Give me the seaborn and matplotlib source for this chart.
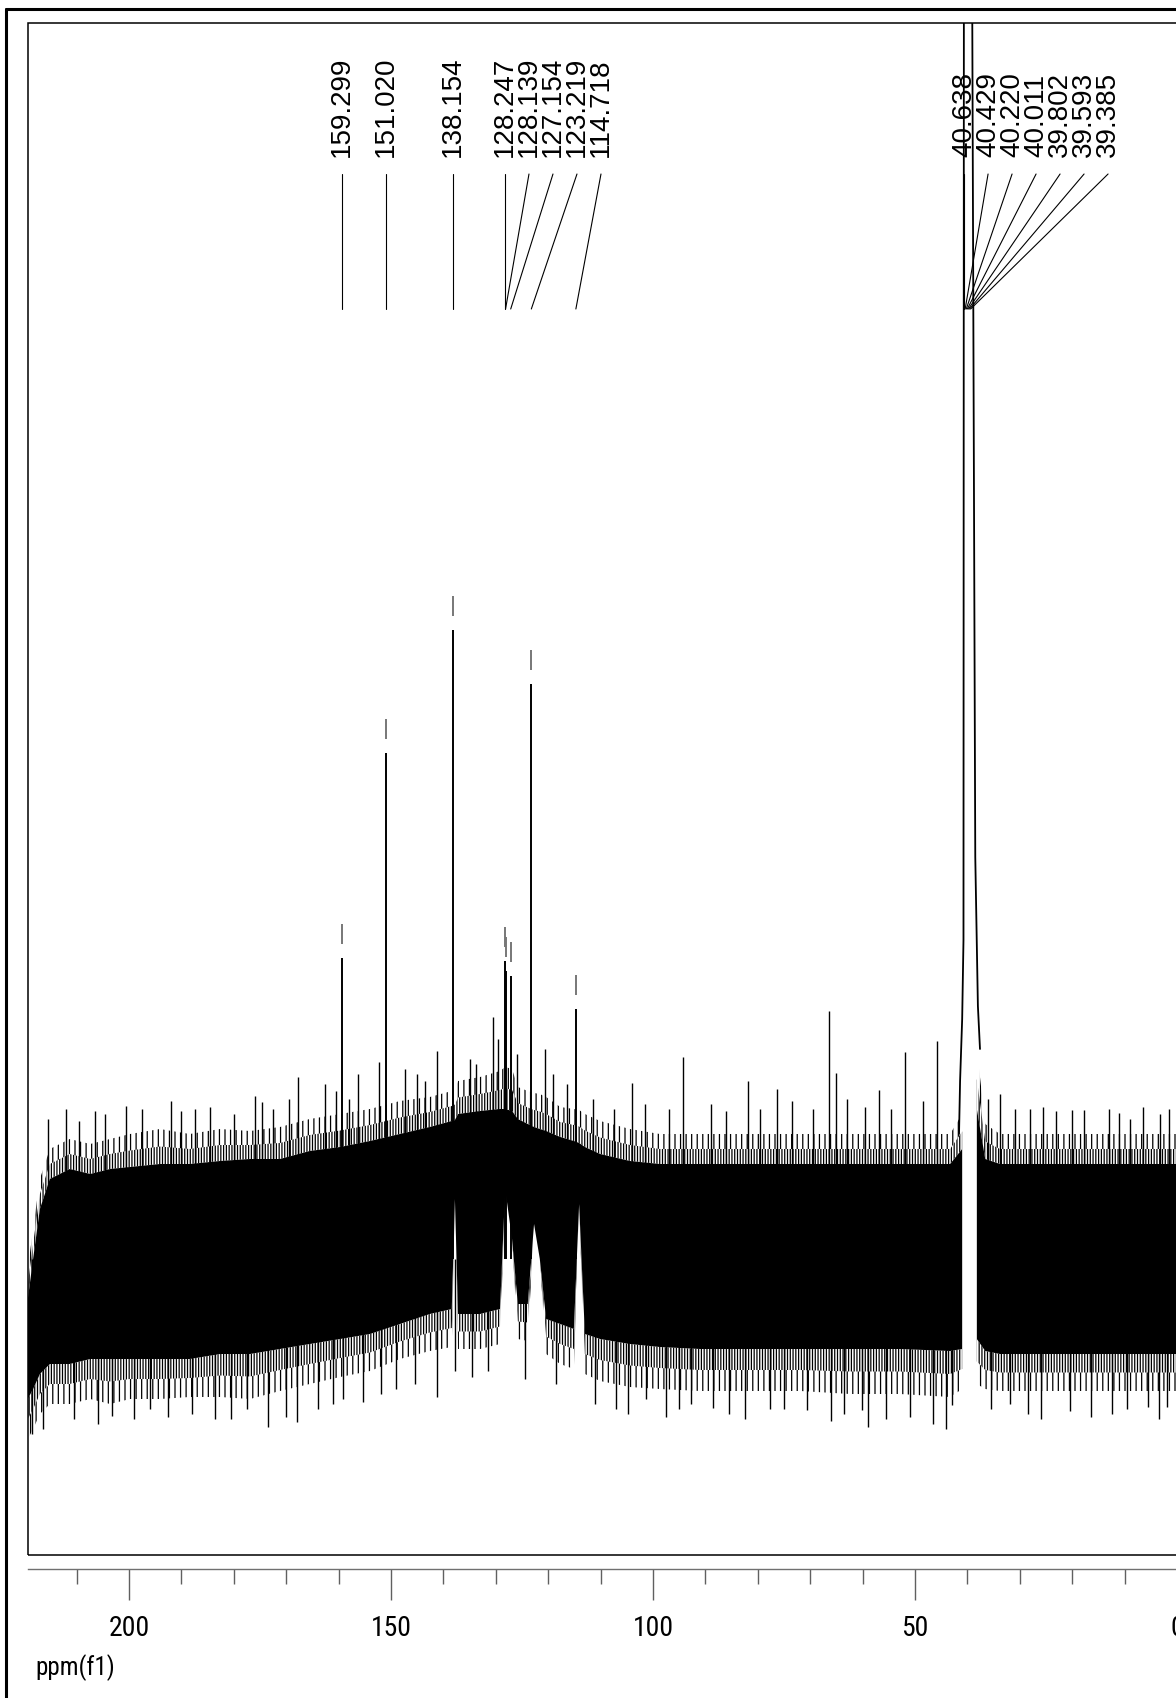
import numpy as np
import pandas as pd
import matplotlib
matplotlib.use("Agg")
import matplotlib.pyplot as plt
import seaborn as sns
import matplotlib.transforms as mtransforms
from matplotlib.patches import Rectangle
from matplotlib.lines import Line2D
from matplotlib.ticker import MultipleLocator
from matplotlib import font_manager

# ---------------- data ----------------
peak_ppm = [159.299, 151.020, 138.154, 128.247, 128.139, 127.154, 123.219, 114.718]
peak_int = [301, 506, 629, 298, 288, 283, 575, 250]

dmso_ppm = [40.638, 40.429, 40.220, 40.011, 39.802, 39.593, 39.385]
dmso_int = [1700, 3300, 5000, 5600, 5000, 3300, 1700]
dmso_left_ppm = [41.6, 41.4, 41.0, 40.75]
dmso_left_int = [125, 178, 240, 319]
dmso_right_ppm = [38.5, 38.0, 37.6]
dmso_right_int = [402, 253, 210]

label_texts = ["159.299", "151.020", "138.154", "128.247", "128.139", "127.154",
               "123.219", "114.718", "40.638", "40.429", "40.220", "40.011",
               "39.802", "39.593", "39.385"]

# noise band envelope: ppm, upper tips, solid top, solid bottom, lower tips
env_ppm = [219.3, 218.3, 217.0, 215.1, 211.3, 207.4, 203.6, 199.8, 194.1, 188.4,
           182.6, 176.9, 171.2, 165.5, 159.7, 154.0, 148.3, 142.6, 138.4, 137.8,
           137.2, 133.0, 129.2, 128.2, 126.9, 125.8, 123.9, 122.7, 121.6, 120.4,
           117.7, 115.1, 114.1, 113.0, 110.1, 104.4, 98.7, 91.0, 81.5, 71.9,
           62.4, 52.9, 43.3, 41.0, 39.6, 38.2, 36.6, 33.8, 24.2, 14.7,
           5.2, 0.2, -10.1]
env_hi = [-10, 30, 80, 110, 120, 115, 120, 125, 130, 125,
          130, 128, 132, 140, 145, 150, 158, 162, 168, 170,
          178, 182, 188, 192, 190, 172, 168, 166, 165, 162,
          152, 150, 149, 145, 138, 130, 125, 125, 125, 125,
          125, 125, 125, 145, np.nan, 210, 135, 125, 125, 125,
          125, 125, 125]
env_solid_hi = [-40, 0, 50, 80, 90, 85, 90, 92, 95, 95,
                98, 100, 100, 108, 112, 118, 125, 132, 138, 139,
                145, 148, 150, 150, 148, 140, 135, 132, 130, 128,
                122, 118, 116, 112, 105, 98, 95, 95, 95, 95,
                95, 95, 95, 110, np.nan, 150, 100, 95, 95, 95,
                95, 95, 95]
env_solid_lo = [-140, -130, -115, -105, -105, -100, -100, -100, -100, -100,
                -95, -95, -90, -85, -80, -75, -65, -55, -50, 60,
                -55, -55, -50, 70, 20, -45, -45, 35, 0, -60,
                -65, -70, 55, -75, -80, -85, -88, -90, -90, -90,
                -90, -90, -92, -90, np.nan, -80, -92, -95, -95, -95,
                -95, -95, -95]
env_lo = [-180, -170, -155, -145, -145, -140, -145, -140, -140, -138,
          -138, -140, -132, -125, -118, -112, -100, -92, -88, 60,
          -90, -90, -85, 70, 20, -80, -82, 35, 0, -95,
          -105, -110, 55, -115, -122, -128, -130, -132, -132, -132,
          -135, -135, -138, -130, np.nan, -125, -130, -132, -132, -132,
          -132, -132, -132]

# visible noise spikes
spike_up_ppm = [215.5, 212.0, 209.5, 206.5, 204.5, 200.6, 197.5, 192.0, 190.0, 187.4,
                184.5, 180.0, 176.0, 174.6, 172.5, 169.5, 167.7, 162.6, 160.5, 158.0,
                156.3, 152.3, 147.3, 145.0, 143.5, 141.2, 135.0, 133.8, 130.5, 129.6,
                126.0, 120.6, 119.0, 116.5, 111.5, 107.5, 104.0, 101.5, 97.0, 94.3,
                89.0, 86.0, 81.9, 79.5, 76.3, 73.5, 69.5, 66.4, 65.1, 63.0,
                59.5, 56.9, 54.5, 51.9, 48.5, 45.8, 36.0, 33.8, 31.0, 28.1,
                25.5, 23.0, 20.0, 17.7, 13.0, 11.0, 9.0, 6.5, 3.2, 1.5]
spike_up_int = [140, 150, 138, 148, 145, 153, 150, 158, 148, 150,
                152, 145, 163, 157, 150, 160, 182, 175, 168, 160,
                185, 197, 190, 185, 178, 208, 200, 195, 242, 220,
                205, 210, 185, 175, 160, 150, 176, 155, 150, 202,
                155, 148, 178, 150, 170, 158, 150, 248, 186, 160,
                152, 169, 150, 207, 158, 218, 160, 165, 150, 150,
                152, 148, 149, 149, 150, 146, 140, 152, 145, 150]
spike_dn_ppm = [218.5, 216.5, 210.5, 206.0, 203.2, 199.0, 196.0, 192.5, 188.0, 183.6,
                180.5, 177.5, 173.5, 170.0, 167.9, 164.0, 161.0, 159.2, 155.3, 152.0,
                149.0, 145.5, 141.2, 137.8, 134.5, 131.5, 124.4, 118.5, 111.0, 107.0,
                104.8, 101.3, 97.5, 95.0, 92.7, 88.5, 85.5, 82.5, 77.7, 75.0,
                70.6, 66.0, 63.5, 60.1, 59.0, 55.5, 51.0, 46.5, 44.0, 42.9,
                35.5, 31.9, 28.5, 26.0, 20.5, 16.5, 12.5, 9.5, 5.5, 3.5, 1.9]
spike_dn_int = [-175, -170, -160, -165, -157, -160, -150, -158, -155, -160,
                -160, -150, -168, -158, -163, -150, -145, -140, -143, -135,
                -130, -125, -138, -112, -118, -112, -120, -125, -145, -150,
                -155, -140, -158, -150, -145, -149, -155, -160, -150, -150,
                -151, -162, -155, -151, -168, -160, -158, -165, -170, -146,
                -150, -145, -155, -160, -152, -158, -155, -150, -148, -160, -148]

major_ticks = [200, 150, 100, 50, 0]

# ---------------- layout ----------------
W, H = 1176, 1699
DPI = 100
PX_PER_PPM = 5.24
XLIM = (219.27, -10.11)
YLIM = (-296, 1236)

sns.set_theme(style="white")


def pick_font(cands):
    names = {f.name for f in font_manager.fontManager.ttflist}
    for c in cands:
        if c in names:
            return c
    return "DejaVu Sans"


narrow = pick_font(["Liberation Sans Narrow", "Arial Narrow", "Roboto Condensed", "Liberation Sans"])
label_font = pick_font(["Liberation Sans", "Arial", "DejaVu Sans"])
plt.rcParams["font.family"] = [label_font, "DejaVu Sans"]
plt.rcParams["hatch.linewidth"] = 0.9
plt.rcParams["hatch.color"] = "black"

fig = plt.figure(figsize=(W / DPI, H / DPI), dpi=DPI)
fig.patch.set_facecolor("white")
ax_left = 28 / W
ax_right = 1230 / W
ax_bot = (H - 1556) / H
ax_top = (H - 24) / H
ax = fig.add_axes([ax_left, ax_bot, ax_right - ax_left, ax_top - ax_bot])
ax.set_facecolor("white")

# noise band: solid body with graded hairy fringes
band = pd.DataFrame({"ppm": env_ppm, "hi": env_hi, "shi": env_solid_hi,
                     "slo": env_solid_lo, "lo": env_lo})
mid_hi = (band["hi"] + band["shi"]) / 2
mid_lo = (band["lo"] + band["slo"]) / 2
ax.fill_between(band["ppm"], band["slo"], band["shi"], color="black", lw=0)
ax.fill_between(band["ppm"], band["shi"], mid_hi, facecolor="none", edgecolor="black",
                hatch="||||||", lw=0)
ax.fill_between(band["ppm"], mid_hi, band["hi"], facecolor="none", edgecolor="black",
                hatch="|||", lw=0)
ax.fill_between(band["ppm"], mid_lo, band["slo"], facecolor="none", edgecolor="black",
                hatch="||||||", lw=0)
ax.fill_between(band["ppm"], band["lo"], mid_lo, facecolor="none", edgecolor="black",
                hatch="|||", lw=0)

# spikes
ax.vlines(spike_up_ppm, 0, spike_up_int, color="black", lw=1.0)
ax.vlines(spike_dn_ppm, 0, spike_dn_int, color="black", lw=1.0)

# DMSO multiplet trace
dm = pd.DataFrame({"ppm": dmso_left_ppm + dmso_ppm + dmso_right_ppm,
                   "int": dmso_left_int + dmso_int + dmso_right_int})
sns.lineplot(data=dm, x="ppm", y="int", ax=ax, color="black", lw=1.3,
             estimator=None, sort=False)

# peaks and peak-pick markers
ax.vlines(peak_ppm, 0, peak_int, color="black", lw=1.4)
pk = np.array(peak_int, dtype=float)
ax.vlines(peak_ppm, pk + 14, pk + 34, color="#777777", lw=1.4)

ax.set_xlim(*XLIM)
ax.set_ylim(*YLIM)
ax.set_xlabel("")
ax.set_ylabel("")
ax.set_yticks([])

# frame
ax.add_patch(Rectangle((0, 0), 1, 1, transform=ax.transAxes, fill=False,
                       ec="black", lw=1.1, clip_on=False, zorder=5))
for s in ["top", "left", "right"]:
    ax.spines[s].set_visible(False)
ax.spines["bottom"].set_position(("outward", 14 * 72 / DPI))
ax.spines["bottom"].set_color("#707070")
ax.spines["bottom"].set_linewidth(1.0)

ax.xaxis.set_major_locator(MultipleLocator(50))
ax.xaxis.set_minor_locator(MultipleLocator(10))
ax.tick_params(axis="x", which="major", direction="out", length=31 * 72 / DPI,
               width=1.0, color="#606060", pad=14 * 72 / DPI, labelsize=20,
               labelcolor="black", bottom=True)
ax.tick_params(axis="x", which="minor", direction="out", length=15 * 72 / DPI,
               width=1.0, color="#606060", bottom=True)
ax.set_xticks(major_ticks)
ax.set_xticklabels([str(t) for t in major_ticks], family=[narrow, "DejaVu Sans"])

# peak labels with connectors
all_ppm = peak_ppm + dmso_ppm
spacing = 24 / PX_PER_PPM
trans = mtransforms.blended_transform_factory(ax.transData, ax.transAxes)
y_text = (1556 - 157) / 1532
y_l1 = (1556 - 175) / 1532
y_l2 = (1556 - 310) / 1532
prev = None
for p, t in zip(all_ppm, label_texts):
    lp = p if prev is None else min(p, prev - spacing)
    prev = lp
    ax.text(lp, y_text, t, transform=trans, rotation=90, ha="center", va="bottom",
            fontsize=20, color="black")
    ax.plot([lp, p], [y_l1, y_l2], transform=trans, color="black", lw=0.8)

# axis caption
fig.text(35 / W, 1 - 1668 / H, "ppm(f1)", ha="left", va="center", fontsize=18,
         family=[narrow, "DejaVu Sans"], color="black")

# outer border (top and left)
fig.add_artist(Line2D([6 / W, 6 / W], [0, 1 - 10 / H], transform=fig.transFigure,
                      color="black", lw=2.2))
fig.add_artist(Line2D([6 / W, 1], [1 - 10 / H, 1 - 10 / H], transform=fig.transFigure,
                      color="black", lw=2.2))

fig.savefig("out.png", dpi=DPI, facecolor="white")
